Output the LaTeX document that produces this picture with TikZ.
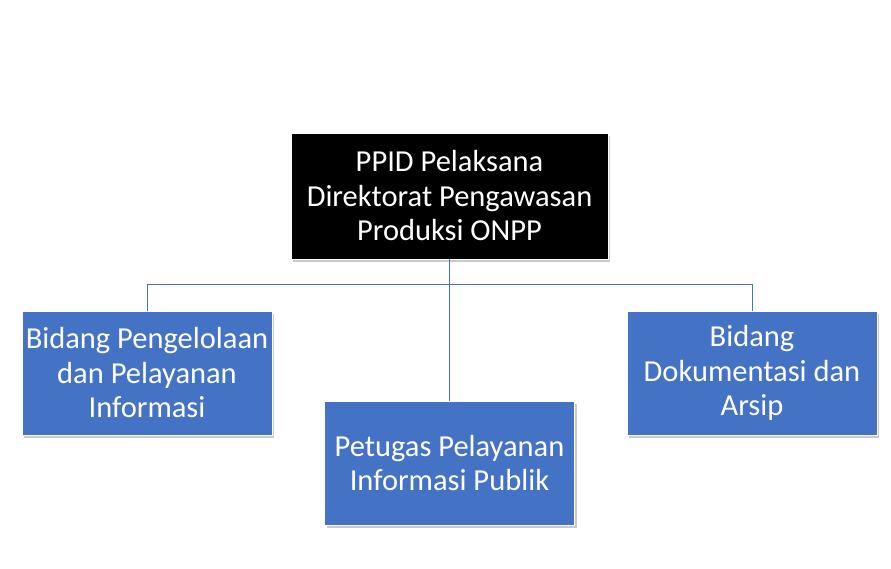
\documentclass[tikz,border=0pt]{standalone}
\usepackage{fontspec}
\setmainfont{Carlito}
\usetikzlibrary{shadows}

\definecolor{boxblue}{HTML}{4472C4}

\tikzset{
    unitbox/.style={
        draw=white, line width=0.8pt, align=center, text=white,
        font=\fontsize{30.5}{34.5}\selectfont, inner sep=0pt,
        drop shadow={shadow xshift=2pt, shadow yshift=-3pt, opacity=0.35, fill=black!60}
    },
    headbox/.style={unitbox, fill=black, minimum width=317pt, minimum height=126pt},
    subbox/.style={unitbox, fill=boxblue, minimum width=250pt, minimum height=124pt},
    link/.style={draw=boxblue, line width=0.9pt}
}

\begin{document}
\begin{tikzpicture}[x=1pt, y=1pt]

    \useasboundingbox (0,0) rectangle (891,-568);

    \node [headbox] (ppid) at (449.5,-196)
        {PPID Pelaksana\\Direktorat Pengawasan\\Produksi ONPP};

    \node [subbox] (pengelolaan) at (147,-373)
        {Bidang Pengelolaan\\dan Pelayanan\\Informasi};

    \node [subbox] (petugas) at (449.5,-463)
        {Petugas Pelayanan\\Informasi Publik};

    \node [subbox] (dokumentasi) at (752,-373)
        {Bidang\\Dokumentasi dan\\Arsip};

    \coordinate (hub) at (449.5,-284);

    \draw [link]
        (ppid.south) -- (hub)
        (hub) -| (pengelolaan.north)
        (hub) -| (dokumentasi.north)
        (hub) -- (petugas.north)
        ;

\end{tikzpicture}
\end{document}
